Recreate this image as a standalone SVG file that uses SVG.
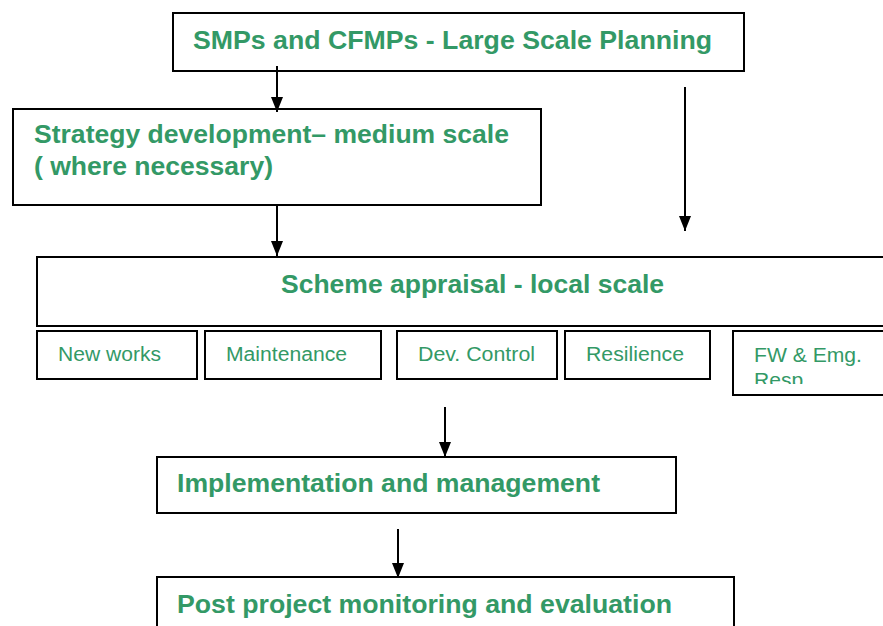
<svg xmlns="http://www.w3.org/2000/svg" width="883" height="626" viewBox="0 0 883 626">
  <style>
    .box { fill: #ffffff; stroke: #000000; stroke-width: 2; }
    .title { font-family: "Liberation Sans", Arial, sans-serif; font-weight: bold; font-size: 26px; fill: #339966; }
    .item { font-family: "Liberation Sans", Arial, sans-serif; font-size: 20px; fill: #339966; }
    .conn { stroke: #000000; stroke-width: 2; fill: none; marker-end: url(#arrow); }
  </style>
  <defs>
    <marker id="arrow" viewBox="0 0 15 12" refX="15" refY="6" markerWidth="15" markerHeight="12" markerUnits="userSpaceOnUse" orient="auto">
      <path d="M0,0 L15,6 L0,12 Z" fill="#000000"/>
    </marker>
    <clipPath id="clipFw">
      <rect x="733" y="331" width="150" height="53"/>
    </clipPath>
  </defs>
  <rect width="883" height="626" fill="#ffffff"/>

  <g id="large-scale">
    <rect class="box" x="173" y="13" width="571" height="58"/>
    <text class="title" x="193" y="49" textLength="519" lengthAdjust="spacingAndGlyphs">SMPs and CFMPs - Large Scale Planning</text>
  </g>

  <g id="strategy">
    <rect class="box" x="13" y="109" width="528" height="96"/>
    <text class="title" x="34" y="143" textLength="475" lengthAdjust="spacingAndGlyphs">Strategy development– medium scale</text>
    <text class="title" x="34" y="175" textLength="239" lengthAdjust="spacingAndGlyphs">( where necessary)</text>
  </g>

  <g id="scheme-appraisal">
    <rect class="box" x="37" y="257" width="860" height="69"/>
    <text class="title" x="281" y="293" textLength="383" lengthAdjust="spacingAndGlyphs">Scheme appraisal - local scale</text>
  </g>

  <g id="new-works">
    <rect class="box" x="37" y="331" width="160" height="48"/>
    <text class="item" x="58" y="361" textLength="103" lengthAdjust="spacingAndGlyphs">New works</text>
  </g>
  <g id="maintenance">
    <rect class="box" x="205" y="331" width="176" height="48"/>
    <text class="item" x="226" y="361" textLength="121" lengthAdjust="spacingAndGlyphs">Maintenance</text>
  </g>
  <g id="dev-control">
    <rect class="box" x="397" y="331" width="160" height="48"/>
    <text class="item" x="418" y="361" textLength="117" lengthAdjust="spacingAndGlyphs">Dev. Control</text>
  </g>
  <g id="resilience">
    <rect class="box" x="565" y="331" width="145" height="48"/>
    <text class="item" x="586" y="361" textLength="98" lengthAdjust="spacingAndGlyphs">Resilience</text>
  </g>
  <g id="fw-emg-resp">
    <rect class="box" x="733" y="331" width="160" height="64"/>
    <g clip-path="url(#clipFw)">
      <text class="item" x="754" y="362" textLength="108" lengthAdjust="spacingAndGlyphs">FW &amp; Emg.</text>
      <text class="item" x="754" y="387" textLength="55" lengthAdjust="spacingAndGlyphs">Resp.</text>
    </g>
  </g>

  <g id="implementation">
    <rect class="box" x="157" y="457" width="519" height="56"/>
    <text class="title" x="177" y="492" textLength="423" lengthAdjust="spacingAndGlyphs">Implementation and management</text>
  </g>

  <g id="post-project">
    <rect class="box" x="157" y="577" width="577" height="60"/>
    <text class="title" x="177" y="613" textLength="495" lengthAdjust="spacingAndGlyphs">Post project monitoring and evaluation</text>
  </g>

  <g id="connectors">
    <line class="conn" x1="277" y1="66" x2="277" y2="112"/>
    <line class="conn" x1="685" y1="87" x2="685" y2="231"/>
    <line class="conn" x1="277" y1="205" x2="277" y2="256"/>
    <line class="conn" x1="445" y1="407" x2="445" y2="457"/>
    <line class="conn" x1="398" y1="529" x2="398" y2="578"/>
  </g>
</svg>
